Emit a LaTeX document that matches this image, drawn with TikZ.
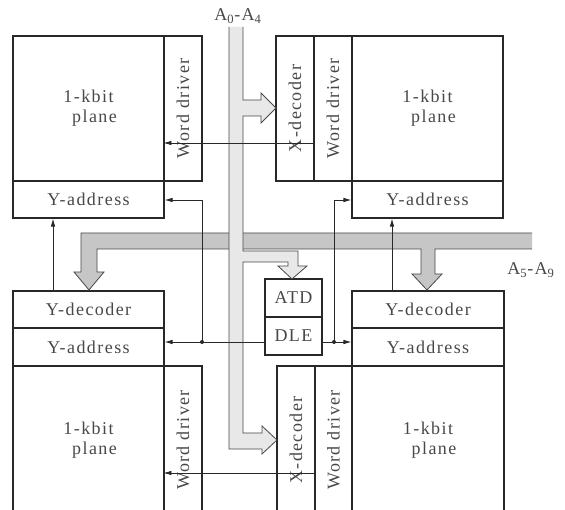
\documentclass[tikz,border=0pt]{standalone}
\usepackage{fontspec}
\newfontfamily\lbl{Liberation Serif}[LetterSpace=8]
\usetikzlibrary{arrows.meta}
\definecolor{busH}{RGB}{198,198,198}
\definecolor{busV}{RGB}{232,232,232}
\definecolor{ink}{RGB}{40,40,40}
\begin{document}
\begin{tikzpicture}[x=1pt,y=-1pt,
  box/.style={draw=ink, line width=1.1pt, inner sep=0pt, font=\lbl\fontsize{18}{20}\selectfont, text=ink!85},
  rbox/.style={box, rotate=90},
  conn/.style={draw=ink, line width=0.75pt},
  arr/.style={conn, -{Latex[length=8pt,width=4.5pt]}},
  dot/.style={circle, fill=ink, inner sep=0pt, minimum size=4pt},
  bus/.style={draw=ink!85, line width=0.8pt, line join=miter},
  lab/.style={font=\lbl\fontsize{18}{20}\selectfont, text=ink!85, inner sep=0pt}]
\useasboundingbox (0,0) rectangle (565,510);
\clip (0,0) rectangle (565,510);

% ---------- blocks ----------
% top left
\node[box, minimum width=151pt, minimum height=145pt, align=center] (plTL) at (88.5,108.5) {1-kbit\\\hspace*{12pt}plane};
\node[rbox, minimum width=145pt, minimum height=38pt] (wdTL) at (183,108.5) {Word driver};
\node[box, minimum width=151pt, minimum height=37pt] (yaTL) at (88.5,199.5) {Y-address};
% top right
\node[rbox, minimum width=145pt, minimum height=38pt] (xdTR) at (295,108.5) {X-decoder};
\node[rbox, minimum width=145pt, minimum height=38pt] (wdTR) at (333,108.5) {Word driver};
\node[box, minimum width=151pt, minimum height=145pt, align=center] (plTR) at (427.5,108.5) {1-kbit\\\hspace*{12pt}plane};
\node[box, minimum width=151pt, minimum height=37pt] (yaTR) at (427.5,199.5) {Y-address};
% bottom left
\node[box, minimum width=151pt, minimum height=37pt] (ydBL) at (88.5,309.5) {Y-decoder};
\node[box, minimum width=151pt, minimum height=38pt] (yaBL) at (88.5,347) {Y-address};
\node[box, minimum width=151pt, minimum height=148pt, align=center] (plBL) at (88.5,440) {1-kbit\\\hspace*{12pt}plane};
\node[rbox, minimum width=148pt, minimum height=38pt] (wdBL) at (183,440) {Word driver};
% centre
\node[box, minimum width=57pt, minimum height=38pt] (atd) at (293.5,298) {ATD};
\node[box, minimum width=57pt, minimum height=38pt] (dle) at (293.5,336) {DLE};
% bottom right
\node[box, minimum width=152pt, minimum height=37pt] (ydBR) at (428,309.5) {Y-decoder};
\node[box, minimum width=152pt, minimum height=38pt] (yaBR) at (428,347) {Y-address};
\node[rbox, minimum width=148pt, minimum height=38pt] (xdBR) at (296,440) {X-decoder};
\node[rbox, minimum width=148pt, minimum height=37pt] (wdBR) at (333.5,440) {Word driver};
\node[box, minimum width=152pt, minimum height=148pt, align=center] (plBR) at (428,440) {1-kbit\\\hspace*{12pt}plane};

% ---------- horizontal bus A5-A9 ----------
\fill[busH] (532,233) -- (81,233) -- (81,272) -- (74,272) -- (89,290) -- (104,272) -- (97,272) -- (97,249)
  -- (421,249) -- (421,274) -- (412,274) -- (427,290) -- (442,274) -- (435,274) -- (435,249) -- (532,249) -- cycle;
\draw[bus] (532,233) -- (81,233) -- (81,272) -- (74,272) -- (89,290) -- (104,272) -- (97,272) -- (97,249)
  -- (421,249) -- (421,274) -- (412,274) -- (427,290) -- (442,274) -- (435,274) -- (435,249) -- (532,249);

% ---------- vertical bus A0-A4 ----------
\fill[busV] (243,27) -- (243,100) -- (261,100) -- (261,93) -- (276,108) -- (261,123) -- (261,116) -- (243,116)
  -- (243,251) -- (298,251) -- (298,266) -- (307,266) -- (292,279) -- (278,266) -- (288,266) -- (288,262) -- (243,262)
  -- (243,433) -- (262,433) -- (262,426) -- (277,440) -- (262,454) -- (262,449) -- (229,449) -- (229,27) -- cycle;
\draw[bus] (243,27) -- (243,100) -- (261,100) -- (261,93) -- (276,108) -- (261,123) -- (261,116) -- (243,116)
  -- (243,251) -- (298,251) -- (298,266) -- (307,266) -- (292,279) -- (278,266) -- (288,266) -- (288,262) -- (243,262)
  -- (243,433) -- (262,433) -- (262,426) -- (277,440) -- (262,454) -- (262,449) -- (229,449) -- (229,27);

% ---------- labels ----------
\node[lab] (la) at (238,16) {A\textsubscript{0}-A\textsubscript{4}};
\node[lab] (lb) at (531,270) {A\textsubscript{5}-A\textsubscript{9}};

% ---------- connectors ----------
\coordinate (r143) at (0,143);
\coordinate (r200) at (0,200);
\coordinate (r342) at (0,342);
\coordinate (r473) at (0,473);
\coordinate (c53) at (53,0);
\coordinate (c392) at (392,0);
\node[dot] (jL) at (202,342) {};
\node[dot] (jR) at (334,342) {};
\coordinate (kL) at (202,200);
\coordinate (kR) at (334,200);

\draw[arr] (xdTR.south |- r143) -- (wdTL.north |- r143);
\draw[arr] (xdBR.south |- r473) -- (wdBL.north |- r473);
\draw[arr] (dle.west |- r342) -- (yaBL.east |- r342);
\draw[arr] (dle.east |- r342) -- (yaBR.west |- r342);
\draw[arr] (jL.center) -- (kL) -- (yaTL.east |- r200);
\draw[arr] (jR.center) -- (kR) -- (yaTR.west |- r200);
\draw[arr] (c53 |- ydBL.north) -- (c53 |- yaTL.south);
\draw[arr] (c392 |- ydBR.north) -- (c392 |- yaTR.south);
\end{tikzpicture}
\end{document}
